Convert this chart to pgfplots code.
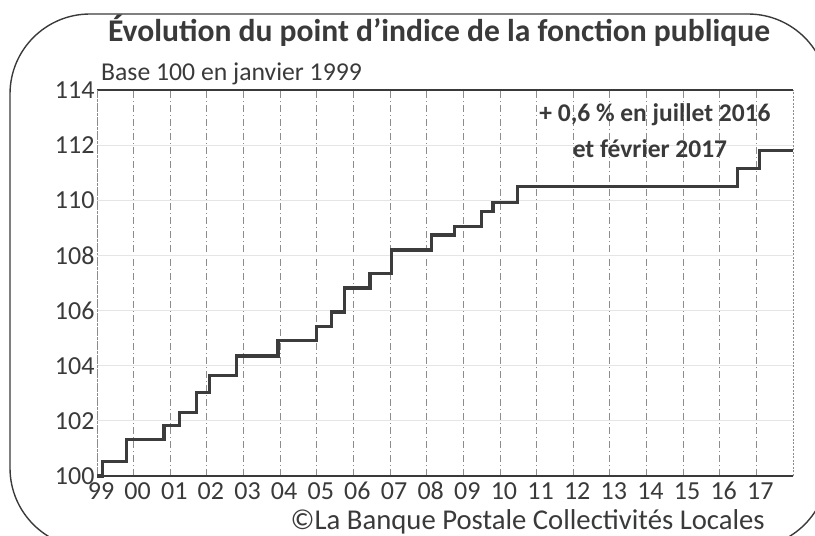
\documentclass[border=0pt]{standalone}
\usepackage{fontspec}
\setmainfont{Carlito}
\usepackage{pgfplots}
\pgfplotsset{compat=1.18}
\definecolor{ink}{HTML}{3A3A3A}
\definecolor{lineclr}{HTML}{3C3C3C}
\begin{document}
\begin{tikzpicture}
\useasboundingbox (0pt,0pt) rectangle (815pt,536pt);
\draw[ink, line width=1.4pt, rounded corners=80pt] (10pt,-12pt) rectangle (828pt,522pt);
\node[anchor=base, text=ink, font=\fontsize{31.6}{36}\selectfont\bfseries] at (439pt,494pt) {Évolution du point d'indice de la fonction publique};
\node[anchor=base west, text=ink, font=\fontsize{25.7}{29}\selectfont, inner sep=0pt] at (101pt,455pt) {Base 100 en janvier 1999};
\node[anchor=base east, text=ink, font=\fontsize{28.7}{32}\selectfont, inner sep=0pt] at (765pt,6pt) {©La Banque Postale Collectivités Locales};
\begin{axis}[
  at={(97pt,60pt)}, anchor=south west,
  scale only axis, width=696pt, height=386pt,
  xmin=1999, xmax=2018, ymin=100, ymax=114,
  xtick={1999,2000,...,2017},
  xticklabels={99,00,01,02,03,04,05,06,07,08,09,10,11,12,13,14,15,16,17},
  ytick={100,102,...,114},
  /pgf/number format/assume math mode=true,
  /pgf/number format/1000 sep={},
  ticklabel style={font=\fontsize{26}{30}\selectfont, text=ink},
  xticklabel style={anchor=base, yshift=-24pt, xshift=4pt},
  yticklabel style={xshift=1pt},
  major tick length=0pt,
  separate axis lines,
  x axis line style={ink, line width=1.4pt},
  y axis line style={black!45, line width=1pt, dash pattern=on 2pt off 1.5pt},
  xmajorgrids, ymajorgrids,
  x grid style={black!45, line width=0.8pt, dash pattern=on 7pt off 3pt on 1pt off 3pt},
  y grid style={black!10, line width=1pt},
  clip=false,
]
\addplot[const plot, lineclr, line width=3.2pt] coordinates {
(1999.00,100.00)
(1999.16,100.52)
(1999.81,101.31)
(2000.83,101.82)
(2001.26,102.30)
(2001.72,103.02)
(2002.08,103.64)
(2002.81,104.35)
(2003.94,104.90)
(2004.99,105.43)
(2005.40,105.95)
(2005.76,106.82)
(2006.45,107.35)
(2007.04,108.20)
(2008.13,108.74)
(2008.76,109.05)
(2009.49,109.58)
(2009.81,109.92)
(2010.49,110.49)
(2016.49,111.14)
(2017.08,111.80)
(2018.00,111.80)
};
\end{axis}
\node[anchor=base, text=ink, font=\fontsize{25.5}{29}\selectfont\bfseries] at (655pt,414pt) {+ 0,6 \% en juillet 2016};
\node[anchor=base, text=ink, font=\fontsize{25.5}{29}\selectfont\bfseries] at (650pt,378pt) {et février 2017};
\end{tikzpicture}
\end{document}
